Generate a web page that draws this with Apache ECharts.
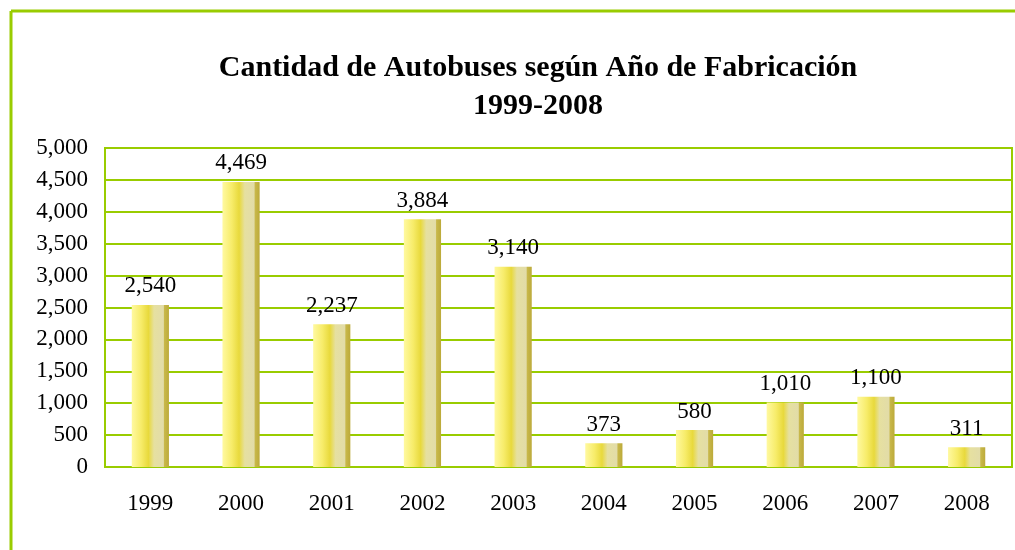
<!DOCTYPE html>
<html><head><meta charset="utf-8">
<script src="https://cdn.jsdelivr.net/npm/echarts@6/dist/echarts.min.js"></script>
<style>html,body{margin:0;padding:0;background:#fff}#c{width:1015px;height:550px}</style>
</head><body><div id="c"></div>
<script>
const categories = ['1999','2000','2001','2002','2003','2004','2005','2006','2007','2008'];
const values = [2540, 4469, 2237, 3884, 3140, 373, 580, 1010, 1100, 311];
const titleLines = ['Cantidad de Autobuses según Año de Fabricación', '1999-2008'];

const green = '#99CC00';
const font = 'Liberation Serif, Times New Roman, serif';
const chart = echarts.init(document.getElementById('c'));
const fmt = v => v.toLocaleString('en-US');
chart.setOption({
  animation: false,
  title: {
    text: titleLines.join('\n'), left: 533, top: 44, textAlign: 'center',
    textStyle: {fontFamily: font, fontSize: 30, fontWeight: 'bold', color: '#000', lineHeight: 38}
  },
  graphic: [
    {type: 'line', shape: {x1: 11, y1: 11, x2: 1015, y2: 11}, style: {stroke: green, lineWidth: 3}},
    {type: 'line', shape: {x1: 11, y1: 11, x2: 11, y2: 550}, style: {stroke: green, lineWidth: 3}}
  ],
  grid: {left: 105, right: 3, top: 148, bottom: 83, show: true, borderColor: green, borderWidth: 2},
  xAxis: {
    type: 'category', data: categories,
    axisLine: {show: true, lineStyle: {color: green, width: 2}},
    axisTick: {show: false},
    axisLabel: {fontFamily: font, fontSize: 23, color: '#000', margin: 25}
  },
  yAxis: {
    type: 'value', min: 0, max: 5000, interval: 500,
    axisLine: {show: true, lineStyle: {color: green, width: 2}},
    axisTick: {show: false},
    splitLine: {lineStyle: {color: green, width: 2}},
    axisLabel: {fontFamily: font, fontSize: 23, color: '#000', margin: 17, formatter: v => fmt(v)}
  },
  series: [{
    type: 'bar', data: values, barWidth: '41%',
    itemStyle: {
      color: new echarts.graphic.LinearGradient(0, 0, 1, 0, [
        {offset: 0, color: '#FFF9A0'},
        {offset: 0.25, color: '#F7EC6A'},
        {offset: 0.45, color: '#E8D93C'},
        {offset: 0.6, color: '#E6E0A0'},
        {offset: 0.85, color: '#E2DCA8'},
        {offset: 0.88, color: '#C8B84A'},
        {offset: 1, color: '#BCAA3A'}
      ])
    },
    label: {show: true, position: 'top', distance: 7, fontFamily: font, fontSize: 23, color: '#000', formatter: p => fmt(p.value)}
  }]
});
</script></body></html>
